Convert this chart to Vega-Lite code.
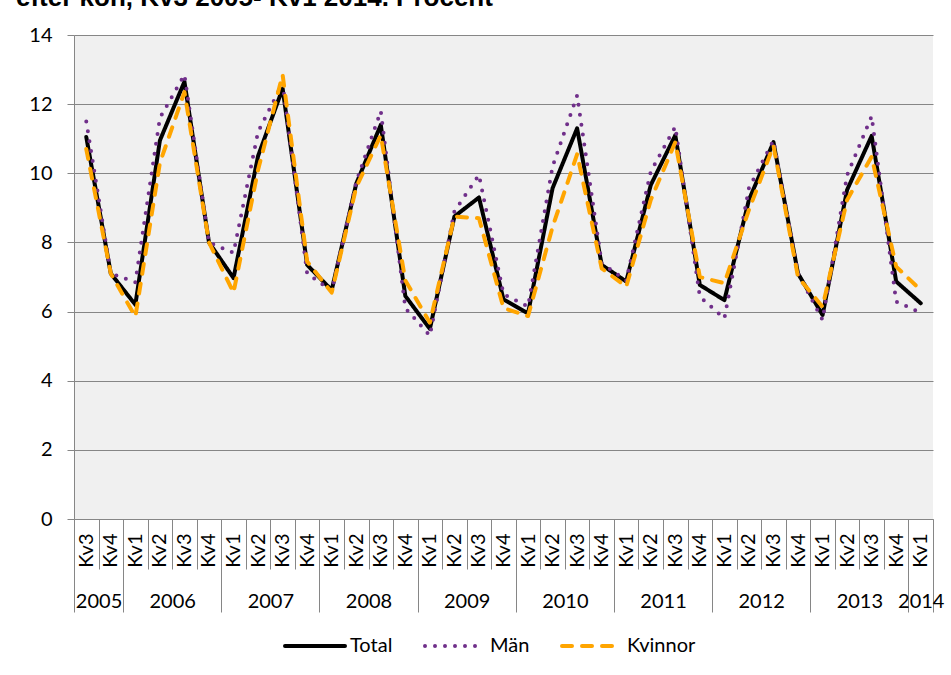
{
  "$schema": "https://vega.github.io/schema/vega-lite/v6.json",
  "width": 859,
  "height": 484,
  "autosize": {"type": "none"},
  "padding": {"left": 74, "top": 35, "right": 18, "bottom": 156},
  "background": "white",
  "title": {"text": "efter kön, Kv3 2005- Kv1 2014. Procent", "anchor": "start", "frame": "group", "dx": -58, "offset": 14, "font": "Liberation Sans", "fontSize": 26, "fontWeight": "bold", "color": "black"},
  "config": {"view": {"fill": "#f0f0f0", "stroke": null}},
  "data": {"values": [
    {"t":0,"s":"Total","v":11.05},{"t":1,"s":"Total","v":7.1},{"t":2,"s":"Total","v":6.2},{"t":3,"s":"Total","v":10.95},{"t":4,"s":"Total","v":12.65},{"t":5,"s":"Total","v":8.0},{"t":6,"s":"Total","v":6.97},{"t":7,"s":"Total","v":10.5},{"t":8,"s":"Total","v":12.45},{"t":9,"s":"Total","v":7.35},{"t":10,"s":"Total","v":6.62},{"t":11,"s":"Total","v":9.7},{"t":12,"s":"Total","v":11.4},{"t":13,"s":"Total","v":6.45},{"t":14,"s":"Total","v":5.5},{"t":15,"s":"Total","v":8.75},{"t":16,"s":"Total","v":9.3},{"t":17,"s":"Total","v":6.35},{"t":18,"s":"Total","v":5.95},{"t":19,"s":"Total","v":9.57},{"t":20,"s":"Total","v":11.3},{"t":21,"s":"Total","v":7.35},{"t":22,"s":"Total","v":6.87},{"t":23,"s":"Total","v":9.66},{"t":24,"s":"Total","v":11.1},{"t":25,"s":"Total","v":6.77},{"t":26,"s":"Total","v":6.33},{"t":27,"s":"Total","v":9.23},{"t":28,"s":"Total","v":10.9},{"t":29,"s":"Total","v":7.1},{"t":30,"s":"Total","v":5.9},{"t":31,"s":"Total","v":9.52},{"t":32,"s":"Total","v":11.08},{"t":33,"s":"Total","v":6.87},{"t":34,"s":"Total","v":6.24},
    {"t":0,"s":"Män","v":11.5},{"t":1,"s":"Män","v":7.1},{"t":2,"s":"Män","v":6.85},{"t":3,"s":"Män","v":11.6},{"t":4,"s":"Män","v":12.85},{"t":5,"s":"Män","v":8.0},{"t":6,"s":"Män","v":7.7},{"t":7,"s":"Män","v":11.2},{"t":8,"s":"Män","v":12.6},{"t":9,"s":"Män","v":7.1},{"t":10,"s":"Män","v":6.6},{"t":11,"s":"Män","v":9.75},{"t":12,"s":"Män","v":11.8},{"t":13,"s":"Män","v":6.1},{"t":14,"s":"Män","v":5.3},{"t":15,"s":"Män","v":8.9},{"t":16,"s":"Män","v":9.95},{"t":17,"s":"Män","v":6.5},{"t":18,"s":"Män","v":6.15},{"t":19,"s":"Män","v":10.2},{"t":20,"s":"Män","v":12.25},{"t":21,"s":"Män","v":7.4},{"t":22,"s":"Män","v":6.9},{"t":23,"s":"Män","v":10.05},{"t":24,"s":"Män","v":11.35},{"t":25,"s":"Män","v":6.43},{"t":26,"s":"Män","v":5.8},{"t":27,"s":"Män","v":9.57},{"t":28,"s":"Män","v":10.95},{"t":29,"s":"Män","v":7.1},{"t":30,"s":"Män","v":5.76},{"t":31,"s":"Män","v":9.95},{"t":32,"s":"Män","v":11.65},{"t":33,"s":"Män","v":6.29},{"t":34,"s":"Män","v":5.97},
    {"t":0,"s":"Kvinnor","v":10.7},{"t":1,"s":"Kvinnor","v":7.1},{"t":2,"s":"Kvinnor","v":5.85},{"t":3,"s":"Kvinnor","v":10.3},{"t":4,"s":"Kvinnor","v":12.35},{"t":5,"s":"Kvinnor","v":8.0},{"t":6,"s":"Kvinnor","v":6.55},{"t":7,"s":"Kvinnor","v":10.1},{"t":8,"s":"Kvinnor","v":12.85},{"t":9,"s":"Kvinnor","v":7.45},{"t":10,"s":"Kvinnor","v":6.55},{"t":11,"s":"Kvinnor","v":9.6},{"t":12,"s":"Kvinnor","v":11.1},{"t":13,"s":"Kvinnor","v":6.9},{"t":14,"s":"Kvinnor","v":5.68},{"t":15,"s":"Kvinnor","v":8.75},{"t":16,"s":"Kvinnor","v":8.7},{"t":17,"s":"Kvinnor","v":6.1},{"t":18,"s":"Kvinnor","v":5.87},{"t":19,"s":"Kvinnor","v":8.45},{"t":20,"s":"Kvinnor","v":10.55},{"t":21,"s":"Kvinnor","v":7.25},{"t":22,"s":"Kvinnor","v":6.72},{"t":23,"s":"Kvinnor","v":9.23},{"t":24,"s":"Kvinnor","v":10.9},{"t":25,"s":"Kvinnor","v":7.0},{"t":26,"s":"Kvinnor","v":6.82},{"t":27,"s":"Kvinnor","v":8.94},{"t":28,"s":"Kvinnor","v":10.8},{"t":29,"s":"Kvinnor","v":7.0},{"t":30,"s":"Kvinnor","v":6.14},{"t":31,"s":"Kvinnor","v":9.23},{"t":32,"s":"Kvinnor","v":10.48},{"t":33,"s":"Kvinnor","v":7.3},{"t":34,"s":"Kvinnor","v":6.62}
  ]},
  "layer": [
    {
      "mark": {"type": "line", "strokeWidth": 4, "strokeCap": "round", "strokeJoin": "round"},
      "encoding": {
        "x": {"field": "t", "type": "quantitative", "scale": {"domain": [-0.5, 34.5], "nice": false, "zero": false},
          "axis": {"orient": "bottom", "values": [0,1,2,3,4,5,6,7,8,9,10,11,12,13,14,15,16,17,18,19,20,21,22,23,24,25,26,27,28,29,30,31,32,33,34],
            "labelExpr": "'Kv' + (((datum.value + 2) % 4) + 1)", "labelAngle": -90, "labelPadding": 14, "ticks": false, "grid": false,
            "domain": true, "domainColor": "#868686", "title": null, "labelFont": "Lato", "labelFontSize": 20, "labelColor": "black",
            "labelOverlap": false, "labelBound": false, "labelFlush": false}},
        "y": {"field": "v", "type": "quantitative", "scale": {"domain": [0, 14], "nice": false},
          "axis": {"values": [0,2,4,6,8,10,12,14], "title": null, "grid": true, "gridColor": "#868686", "domainColor": "#868686",
            "tickColor": "#868686", "tickSize": 7, "labelPadding": 15, "labelFont": "Lato", "labelFontSize": 20, "labelColor": "black"}},
        "color": {"field": "s", "type": "nominal", "scale": {"domain": ["Total", "Män", "Kvinnor"], "range": ["#000000", "#702F8A", "#FFA500"]},
          "legend": {"title": null, "orient": "none", "legendX": 209, "legendY": 579, "direction": "horizontal", "symbolType": "stroke", "symbolSize": 3600, "symbolStrokeWidth": 4,
            "labelFont": "Lato", "labelFontSize": 20, "labelColor": "black", "columnPadding": 24, "labelOffset": 3,
            "encode": {"symbols": {"update": {"strokeCap": {"value": "round"}}}}}},
        "strokeDash": {"field": "s", "type": "nominal", "scale": {"domain": ["Total", "Män", "Kvinnor"], "range": [[1, 0], [0, 10], [10, 10]]},
          "legend": {"title": null, "orient": "none", "legendX": 209, "legendY": 579, "direction": "horizontal", "symbolType": "stroke", "symbolSize": 3600, "symbolStrokeWidth": 4,
            "labelFont": "Lato", "labelFontSize": 20, "labelColor": "black", "columnPadding": 24, "labelOffset": 3,
            "encode": {"symbols": {"update": {"strokeCap": {"value": "round"}}}}}}
      }
    },
    {
      "mark": {"type": "point", "opacity": 0},
      "encoding": {
        "x": {"field": "t", "type": "quantitative", "scale": {"domain": [-0.5, 34.5], "nice": false, "zero": false},
          "axis": {"orient": "bottom", "values": [-0.5,0.5,1.5,2.5,3.5,4.5,5.5,6.5,7.5,8.5,9.5,10.5,11.5,12.5,13.5,14.5,15.5,16.5,17.5,18.5,19.5,20.5,21.5,22.5,23.5,24.5,25.5,26.5,27.5,28.5,29.5,30.5,31.5,32.5,33.5,34.5],
            "labels": false, "domain": false, "grid": false, "title": null, "tickColor": "#868686", "tickWidth": 1,
            "tickSize": {"condition": {"test": "indexof([-0.5,1.5,5.5,9.5,13.5,17.5,21.5,25.5,29.5,33.5,34.5], datum.value) >= 0", "value": 93}, "value": 50}}}
      }
    },
    {
      "mark": {"type": "point", "opacity": 0},
      "encoding": {
        "x": {"field": "t", "type": "quantitative", "scale": {"domain": [-0.5, 34.5], "nice": false, "zero": false},
          "axis": {"orient": "bottom", "values": [0.5,3.5,7.5,11.5,15.5,19.5,23.5,27.5,31.5,34],
            "labelExpr": "datum.value < 1 ? '2005' : datum.value > 33 ? '2014' : '' + (2006 + floor((datum.value - 3.5) / 4))",
            "ticks": false, "domain": false, "grid": false, "title": null, "labelPadding": 72, "labelFont": "Lato", "labelFontSize": 20,
            "labelColor": "black", "labelOverlap": false, "labelBound": false, "labelFlush": false}}
      }
    }
  ],
  "resolve": {"axis": {"x": "independent"}}
}
